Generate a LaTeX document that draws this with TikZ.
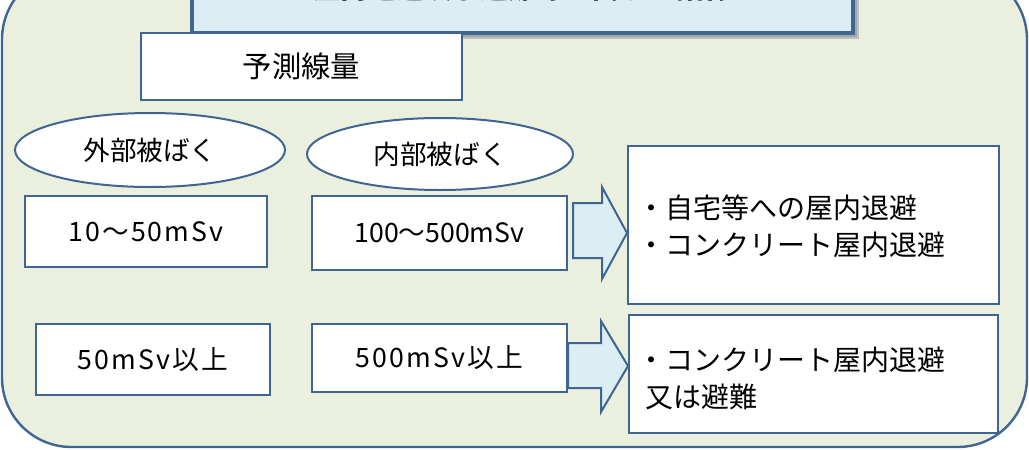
\documentclass[tikz,border=0pt]{standalone}
\usepackage{fontspec}
\usetikzlibrary{shapes.geometric}
\newfontfamily\jp{Noto Sans CJK JP}
\newfontfamily\jpw[LetterSpace=8]{Noto Sans CJK JP}
\definecolor{bgc}{HTML}{EBEFDE}
\definecolor{bdr}{HTML}{3F6592}
\definecolor{tfill}{HTML}{DBEEF4}
\definecolor{afill}{HTML}{DAEEF3}
\begin{document}
\begin{tikzpicture}[x=0.75pt,y=-0.75pt,
  font=\jp\fontsize{20}{28}\selectfont,
  rect/.style={draw=bdr, line width=1.5pt, fill=white, inner sep=0pt},
  oval/.style={ellipse, draw=bdr, line width=1.5pt, fill=white, inner sep=0pt},
  wide/.style={font=\jpw\fontsize{20}{28}\selectfont},
  res/.style={rect, anchor=west},
  restext/.style={align=left, anchor=west, inner sep=0pt, font=\jp\fontsize{21}{28}\selectfont},
  blockarrow/.style={draw=bdr, line width=1.5pt, fill=afill, line join=miter}]
\clip (0,0) rectangle (1029,450);
% background panel
\draw[fill=bgc, draw=bdr, line width=1.8pt, rounded corners=52pt] (2,-30) rectangle (1027,447);
% title box with shadow
\fill[black!25] (197,-20) rectangle (859,39);
\fill[black!35] (195,-20) rectangle (857,37);
\node[draw=bdr, line width=2.5pt, fill=tfill, minimum width=661*0.75pt, minimum height=70*0.75pt, inner sep=0pt] (title) at (522.5,-2) {};
\node[anchor=base, font=\jp\bfseries\fontsize{21}{21}\selectfont] (ttext) at (522,-2) {屋内退避及び避難等に関する指標};
% header
\node[rect, minimum width=321*0.75pt, minimum height=67*0.75pt, font=\jp\fontsize{22}{28}\selectfont] (pred) at (301.5,66.5) {予測線量};
\node[oval, minimum width=270*0.75pt, minimum height=74*0.75pt] (ext) at (150,150) {外部被ばく};
\node[oval, minimum width=266*0.75pt, minimum height=72*0.75pt] (int) at (440,154) {内部被ばく};
% dose boxes
\node[rect, wide, minimum width=242*0.75pt, minimum height=71*0.75pt] (b1) at (146,231.5) {10～50mSv};
\node[rect, minimum width=255*0.75pt, minimum height=74*0.75pt] (b2) at (439.5,233) {100～500mSv};
\node[rect, wide, minimum width=234*0.75pt, minimum height=71*0.75pt] (b3) at (153,359.5) {50mSv以上};
\node[rect, wide, minimum width=255*0.75pt, minimum height=68*0.75pt] (b4) at (439.5,358) {500mSv以上};
% result boxes
\node[res, minimum width=371*0.75pt, minimum height=158*0.75pt] (r1) at (627,225) {};
\node[restext] (r1t) at (637,226.5) {・自宅等への屋内退避\\・コンクリート屋内退避};
\node[res, minimum width=369*0.75pt, minimum height=118*0.75pt] (r2) at (628,374) {};
\node[restext] (r2t) at (637,378.5) {・コンクリート屋内退避\\\hspace{0.3em}又は避難};
% block arrows
\draw[blockarrow] (573,203) -- (602,203) -- (602,187) -- (r1.west |- 0,233) -- (602,279) -- (602,258) -- (573,258) -- cycle;
\draw[blockarrow] (b4.east |- 0,343) -- (601,343) -- (601,321) -- (r2.west |- 0,366) -- (601,412) -- (601,388) -- (b4.east |- 0,388) -- cycle;
\end{tikzpicture}
\end{document}
